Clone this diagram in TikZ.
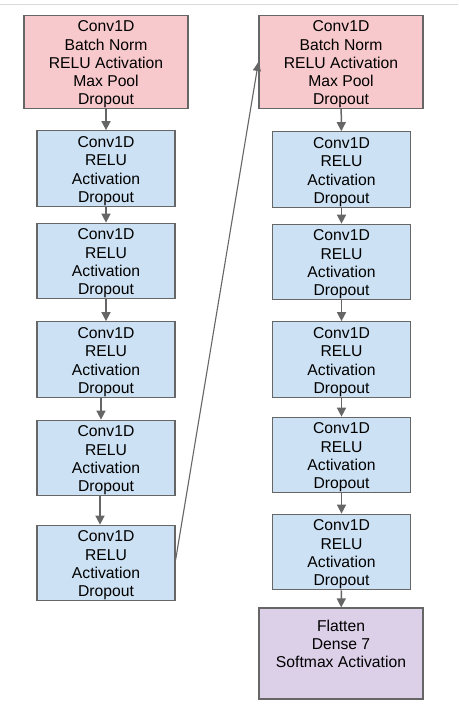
\documentclass[tikz,border=0pt]{standalone}
\usepackage{fontspec}
\setmainfont{Liberation Sans}
\usetikzlibrary{arrows.meta}
\definecolor{edge}{HTML}{666666}
\definecolor{redbg}{HTML}{F8C9CC}
\definecolor{bluebg}{HTML}{CCE1F3}
\definecolor{purplebg}{HTML}{DCCFE8}
\newcommand\topgap{\rule{0pt}{16pt}}
\begin{document}
\begin{tikzpicture}[
 x=1pt,y=-1pt,
 block/.style={draw=edge,line width=1.2pt,inner sep=0pt,align=center,
   font=\fontsize{15.7}{18.3}\selectfont,text=black},
 wide/.style={block,minimum width=164pt,minimum height=90pt,fill=redbg},
 layer/.style={block,minimum width=138pt,minimum height=75.5pt,fill=bluebg},
 outblock/.style={block,minimum width=164pt,minimum height=91pt,fill=purplebg},
 flow/.style={-{Triangle[length=9pt,width=9pt]},draw=edge,line width=1.5pt},
 jump/.style={-{Triangle[length=9pt,width=8pt]},draw=edge,line width=1.1pt}
]
\useasboundingbox[fill=white] (0,0) rectangle (458,711);
\draw[gray!30,line width=1.5pt] (0,4.5)--(458,4.5);

% Left column.
\node[wide] (l0) at (106,62) {\topgap Conv1D\\Batch Norm\\RELU Activation\\Max Pool\\Dropout};
\node[layer] (l1) at (106,168.5) {\topgap Conv1D\\RELU\\Activation\\Dropout};
\node[layer] (l2) at (106,261) {\topgap Conv1D\\RELU\\Activation\\Dropout};
\node[layer] (l3) at (106,359.5) {\topgap Conv1D\\RELU\\Activation\\Dropout};
\node[layer] (l4) at (106,458) {\topgap Conv1D\\RELU\\Activation\\Dropout};
\node[layer] (l5) at (106,563) {\topgap Conv1D\\RELU\\Activation\\Dropout};
\draw[flow] (l0)--(l1);
\draw[flow] (l1)--(l2);
\draw[flow] (l2)--(l3);
\draw[flow] ([xshift=-5pt]l3.south)--([xshift=-5pt]l4.north);
\draw[flow] ([xshift=-6pt]l4.south)--([xshift=-6pt]l5.north);

% Right column.
\node[wide] (r0) at (341,62) {\topgap Conv1D\\Batch Norm\\RELU Activation\\Max Pool\\Dropout};
\node[layer] (r1) at (341.5,169.5) {\topgap Conv1D\\RELU\\Activation\\Dropout};
\node[layer] (r2) at (341.5,262) {\topgap Conv1D\\RELU\\Activation\\Dropout};
\node[layer] (r3) at (341.5,359.5) {\topgap Conv1D\\RELU\\Activation\\Dropout};
\node[layer] (r4) at (341.5,455) {\topgap Conv1D\\RELU\\Activation\\Dropout};
\node[layer] (r5) at (341.5,552) {\topgap Conv1D\\RELU\\Activation\\Dropout};
\node[outblock] (r6) at (341,653.5) {\topgap Flatten\\Dense 7\\Softmax Activation\\\strut};
\draw[flow] (r0)--(r1);
\draw[flow] (r1)--(r2);
\draw[flow] (r2)--(r3);
\draw[flow] (r3)--(r4);
\draw[flow] (r4)--(r5);
\draw[flow] (r5)--(r6);

% Left stack feeds the right stack.
\draw[jump] ([yshift=3pt]l5.east)--(r0.west);
\end{tikzpicture}
\end{document}
